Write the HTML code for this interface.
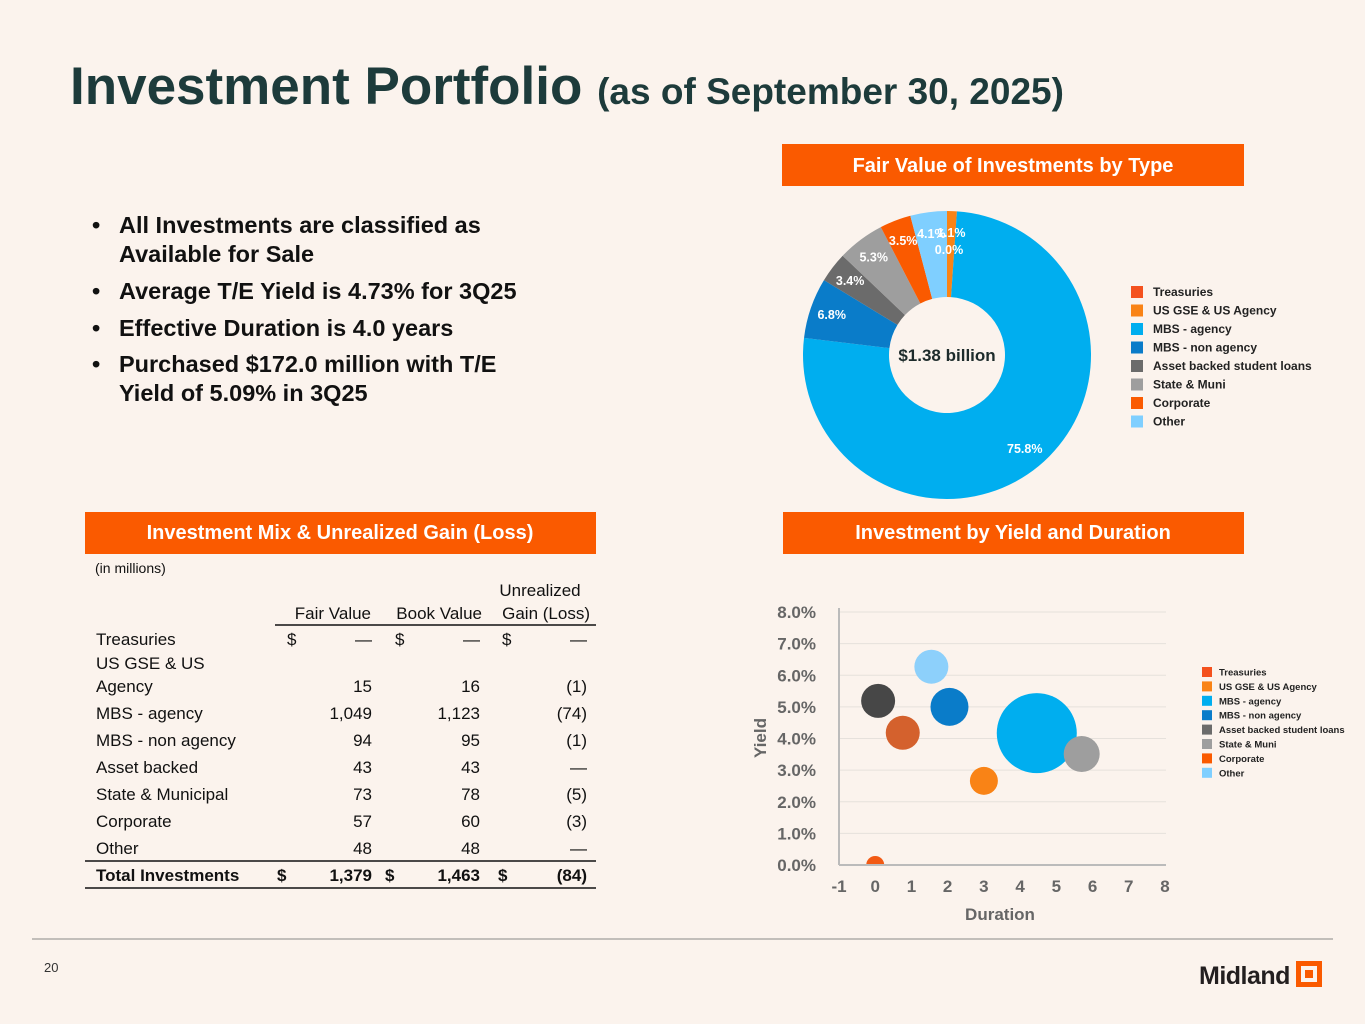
<!DOCTYPE html>
<html><head><meta charset="utf-8">
<style>
html,body{margin:0;padding:0;background:#fbf3ed;}
svg{display:block;font-family:"Liberation Sans",sans-serif;}
</style></head>
<body>
<svg id="page" width="1365" height="1024" viewBox="0 0 1365 1024" xmlns="http://www.w3.org/2000/svg">
<rect width="1365" height="1024" fill="#fbf3ed"/>
<text x="70" y="104" font-size="53" font-weight="bold" fill="#1d3b3b">Investment Portfolio <tspan font-size="37">(as of September 30, 2025)</tspan></text>

<g font-size="23.5" font-weight="bold" fill="#111">
<text x="92" y="233">•</text><text x="119" y="233">All Investments are classified as</text>
<text x="119" y="262">Available for Sale</text>
<text x="92" y="299">•</text><text x="119" y="299">Average T/E Yield is 4.73% for 3Q25</text>
<text x="92" y="336">•</text><text x="119" y="336">Effective Duration is 4.0 years</text>
<text x="92" y="372">•</text><text x="119" y="372">Purchased $172.0 million with T/E</text>
<text x="119" y="401">Yield of 5.09% in 3Q25</text>
</g>

<rect x="782" y="144" width="462" height="42" fill="#fa5a00"/>
<text x="1013" y="172" font-size="20" font-weight="bold" fill="#fff" text-anchor="middle">Fair Value of Investments by Type</text>
<rect x="85" y="512" width="511" height="42" fill="#fa5a00"/>
<text x="340" y="539" font-size="20" font-weight="bold" fill="#fff" text-anchor="middle">Investment Mix &amp; Unrealized Gain (Loss)</text>
<rect x="783" y="512" width="461" height="42" fill="#fa5a00"/>
<text x="1013" y="539" font-size="20" font-weight="bold" fill="#fff" text-anchor="middle">Investment by Yield and Duration</text>

<g id="donut"></g>
<g id="donutLegend"></g>

<g id="table" font-size="17" fill="#111">
<text x="95" y="573" font-size="14">(in millions)</text>
<text x="540" y="596" text-anchor="middle">Unrealized</text>
<text x="371" y="619" text-anchor="end">Fair Value</text>
<text x="482" y="619" text-anchor="end">Book Value</text>
<text x="590" y="619" text-anchor="end">Gain (Loss)</text>
<line x1="275" y1="625" x2="596" y2="625" stroke="#111" stroke-width="1.5"/>
<line x1="85" y1="861" x2="596" y2="861" stroke="#111" stroke-width="1.5"/>
<line x1="85" y1="888" x2="596" y2="888" stroke="#111" stroke-width="1.5"/>
</g>

<g id="scatter"></g>
<g id="scatterLegend"></g>

<line x1="32" y1="939" x2="1333" y2="939" stroke="#888" stroke-width="1"/>
<text x="44" y="972" font-size="13" fill="#333">20</text>
<g>
<text x="1199" y="984" font-size="25" font-weight="bold" fill="#231f20" letter-spacing="-0.5">Midland</text>
<rect x="1296" y="961" width="26" height="26" fill="#fa5a00"/>
<rect x="1301" y="966" width="16" height="16" fill="#fbf3ed"/>
<rect x="1305" y="970" width="8" height="8" fill="#fa5a00"/>
</g>
</svg>
<script>
const NS="http://www.w3.org/2000/svg";
// donut data
const donutCats=["Treasuries","US GSE & US Agency","MBS - agency","MBS - non agency","Asset backed student loans","State & Muni","Corporate","Other"];
const donutVals=[0.0,1.1,75.8,6.8,3.4,5.3,3.5,4.1];
const donutColors=["#f4511e","#f98316","#00aeef","#0a7cc9","#6b6b6b","#9e9e9e","#fa5a00","#7fcfff"];
// table data
const tableRows=["Treasuries","US GSE & US|Agency","MBS - agency","MBS - non agency","Asset backed","State & Municipal","Corporate","Other"];
const fairVals=["—","15","1,049","94","43","73","57","48"];
const bookVals=["—","16","1,123","95","43","78","60","48"];
const gainVals=["—","(1)","(74)","(1)","—","(5)","(3)","—"];
const totals=["1,379","1,463","(84)"];
// scatter data
const scatCats=["Treasuries","US GSE & US Agency","MBS - agency","MBS - non agency","Asset backed student loans","State & Muni","Corporate","Other"];
const duration=[0.0,3.0,4.46,2.05,0.08,5.7,0.76,1.55];
const yieldPct=[0.0,2.66,4.17,5.0,5.19,3.51,4.18,6.27];
const bubbleSize=[9,14,40,19,17,18,17,17];
const scatColors=["#f25a14","#f98316","#00aeef","#0a7cc9","#474747","#9e9e9e","#d4612d","#8dd0fb"];
const xTicks=[-1,0,1,2,3,4,5,6,7,8];
const yTicks=[0,1,2,3,4,5,6,7,8];

function el(tag,attrs,parent,txt){const e=document.createElementNS(NS,tag);for(const k in attrs)e.setAttribute(k,attrs[k]);if(txt!==undefined)e.textContent=txt;parent.appendChild(e);return e;}

// donut
const dg=document.getElementById('donut');
const cx=947,cy=355,R=144,r0=58;
const tot=donutVals.reduce((a,b)=>a+b,0);
let acc=0;
function pt(rad,a){return [cx+rad*Math.sin(a),cy-rad*Math.cos(a)];}
donutVals.forEach((v,i)=>{
  const a0=acc/tot*2*Math.PI;acc+=v;const a1=acc/tot*2*Math.PI;
  if(v>0){
    const lg=(a1-a0)>Math.PI?1:0;
    const p0=pt(R,a0),p1=pt(R,a1),q1=pt(r0,a1),q0=pt(r0,a0);
    const p=el('path',{d:`M${p0[0]},${p0[1]} A${R},${R} 0 ${lg} 1 ${p1[0]},${p1[1]} L${q1[0]},${q1[1]} A${r0},${r0} 0 ${lg} 0 ${q0[0]},${q0[1]} Z`,fill:donutColors[i]},dg);
    
    
  }
});
acc=0;
donutVals.forEach((v,i)=>{
  const am=(acc+v/2)/tot*2*Math.PI;acc+=v;
  let p=pt(122,am);
  if(i===0){p=[cx+2,250];}
  const t=el('text',{x:p[0],y:p[1]+4,'font-size':12.5,'font-weight':'bold',fill:'#fff','text-anchor':'middle'},dg,v.toFixed(1)+'%');
  
  
});
const ct=el('text',{x:cx,y:cy+6,'font-size':17,'font-weight':'bold',fill:'#1d2b2b','text-anchor':'middle'},dg,'$1.38 billion');



const dl=document.getElementById('donutLegend');
donutCats.forEach((c,i)=>{
  const y=292+i*18.5;
  const s=el('rect',{x:1131,y:y-6,width:12,height:12,fill:donutColors[i]},dl);
  
  
  const t=el('text',{x:1153,y:y+4,'font-size':12,'font-weight':'bold',fill:'#222'},dl,c);
  
  
});

// table
const tg=document.getElementById('table');
const rowY=[639,686,713,740,767,794,821,848];
tableRows.forEach((lab,i)=>{
  const y=rowY[i]+6;
  const parts=lab.split('|');
  if(parts.length>1){el('text',{x:96,y:y-23},tg,parts[0]);el('text',{x:96,y:y},tg,parts[1]);}
  else el('text',{x:96,y:y},tg,lab);
  if(i===0){el('text',{x:287,y:y},tg,'$');el('text',{x:395,y:y},tg,'$');el('text',{x:502,y:y},tg,'$');}
  const a=el('text',{x:372,y:y,'text-anchor':'end'},tg,fairVals[i]);
  
  
  el('text',{x:480,y:y,'text-anchor':'end'},tg,bookVals[i]);
  el('text',{x:587,y:y,'text-anchor':'end'},tg,gainVals[i]);
});
const ty=881;
el('text',{x:96,y:ty,'font-weight':'bold'},tg,'Total Investments');
[[277,372],[385,480],[498,587]].forEach((c,j)=>{
  el('text',{x:c[0],y:ty,'font-weight':'bold'},tg,'$');
  el('text',{x:c[1],y:ty,'font-weight':'bold','text-anchor':'end'},tg,totals[j]);
});

// scatter
const sg=document.getElementById('scatter');
const X0=839,X1=1165,Y0=865,Y1=612;
const xs=d=>X0+(d-(-1))/(9)*(X1-X0);
const ys=v=>Y0-(v/8)*(Y0-Y1);
yTicks.forEach(t=>{
  if(t>0)el('line',{x1:X0,x2:1166,y1:ys(t),y2:ys(t),stroke:'#e6e1dc','stroke-width':1},sg);
  const l=el('text',{x:816,y:ys(t)+6,'font-size':17,'font-weight':'bold',fill:'#666','text-anchor':'end'},sg,t.toFixed(1)+'%');
  
  
});
duration.forEach((d,i)=>{
  const c=el('circle',{cx:xs(d),cy:ys(yieldPct[i]),r:bubbleSize[i],fill:scatColors[i]},sg);
  
  
});
el('rect',{x:X0-6,y:Y0+1,width:340,height:14,fill:'#fbf3ed'},sg);
xTicks.forEach(t=>{
  const l=el('text',{x:xs(t),y:892,'font-size':17,'font-weight':'bold',fill:'#666','text-anchor':'middle'},sg,String(t));
  
  
});
el('line',{x1:X0,x2:X0,y1:Y1-4,y2:Y0,stroke:'#bbb','stroke-width':2},sg);
el('line',{x1:X0,x2:1166,y1:Y0,y2:Y0,stroke:'#bbb','stroke-width':2},sg);
const xt=el('text',{x:1000,y:920,'font-size':17,'font-weight':'bold',fill:'#666','text-anchor':'middle'},sg,'Duration');


const yt=el('text',{x:0,y:0,'font-size':17,'font-weight':'bold',fill:'#666','text-anchor':'middle',transform:'translate(766,738) rotate(-90)'},sg,'Yield');



const sl=document.getElementById('scatterLegend');
scatCats.forEach((c,i)=>{
  const y=672+i*14.4;
  const s=el('rect',{x:1202,y:y-5,width:10,height:10,fill:donutColors[i]},sl);
  
  
  const t=el('text',{x:1219,y:y+3.5,'font-size':9.5,'font-weight':'bold',fill:'#222'},sl,c);
  
  
});
</script>
</body></html>
